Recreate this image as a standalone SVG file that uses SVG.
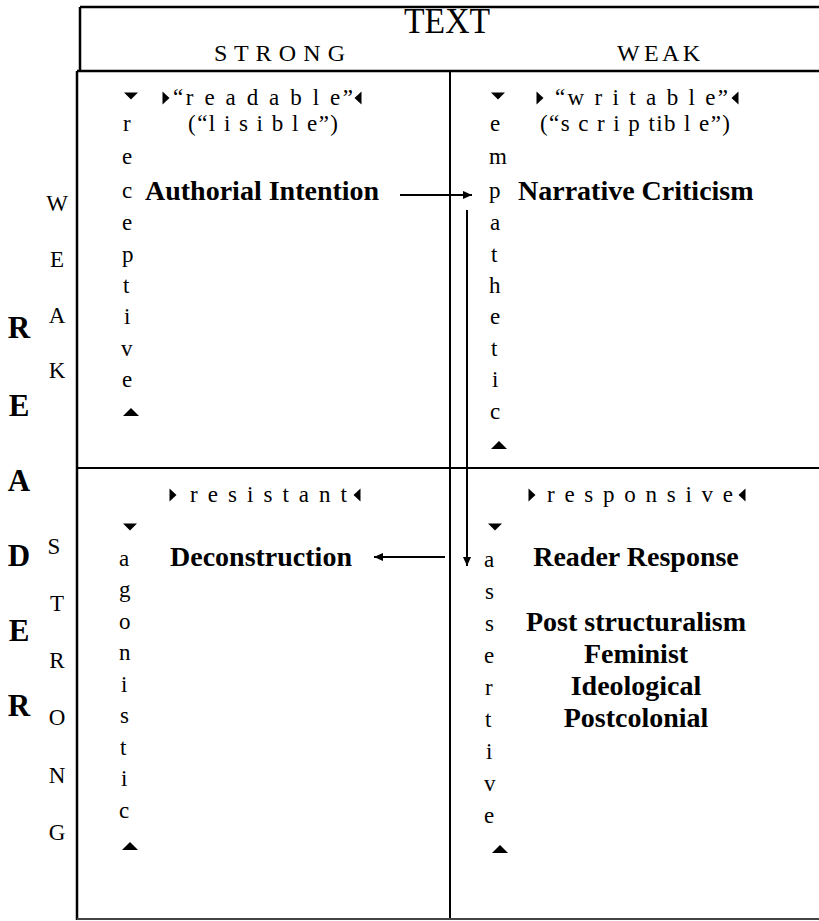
<svg xmlns="http://www.w3.org/2000/svg" width="819" height="921" viewBox="0 0 819 921">
<style>
.t{font-family:"Liberation Serif","Times New Roman",serif;font-size:23px;fill:#000}
.h{font-family:"Liberation Serif","Times New Roman",serif;font-size:24px;fill:#000}
.tt{font-family:"Liberation Serif","Times New Roman",serif;font-size:36px;fill:#000}
.b{font-family:"Liberation Serif","Times New Roman",serif;font-size:28px;font-weight:bold;fill:#000}
.big{font-family:"Liberation Serif","Times New Roman",serif;font-size:31px;font-weight:bold;fill:#000}
.ln{stroke:#000;fill:none}
.c{text-anchor:middle}
</style>
<defs>
<polygon id="dn" points="-7,-3.5 7,-3.5 0,3.5"/>
<polygon id="up" points="-8,4 8,4 0,-4"/>
<polygon id="rt" points="-3.5,-6.5 3.5,0 -3.5,6.5"/>
<polygon id="lt" points="3.5,-6.5 -3.5,0 3.5,6.5"/>
<marker id="ah" viewBox="0 0 10 10" refX="10" refY="5" markerWidth="9" markerHeight="9" markerUnits="userSpaceOnUse" orient="auto"><path d="M0,0.5 L10,5 L0,9.5 Z" fill="#000"/></marker>
</defs>
<rect width="819" height="921" fill="#fff"/>
<g id="frame">
<path class="ln" stroke-width="2.5" d="M80,7 H819 M80,7 V71 M77,71 H819 M77,71 V920"/>
<path class="ln" stroke-width="2" d="M450,71 V920 M77,468 H819"/>
<path stroke="#444" stroke-width="2" d="M77,919 H819"/>
</g>
<g id="header">
<text class="tt c" x="447" y="33" textLength="86" lengthAdjust="spacingAndGlyphs">TEXT</text>
<text class="h" x="214" y="61" textLength="131" lengthAdjust="spacing">S T R O N G</text>
<text class="h" x="617" y="61" textLength="83" lengthAdjust="spacing">W E A K</text>
</g>
<g id="reader-axis">
<text class="big c"><tspan x="19" y="338">R</tspan><tspan x="19" y="416">E</tspan><tspan x="19" y="491">A</tspan><tspan x="19" y="566">D</tspan><tspan x="19" y="641">E</tspan><tspan x="19" y="716">R</tspan></text>
<text class="t c"><tspan x="57" y="211">W</tspan><tspan x="57" y="267">E</tspan><tspan x="57" y="323">A</tspan><tspan x="57" y="378">K</tspan></text>
<text class="t c"><tspan x="54" y="554">S</tspan><tspan x="57" y="611">T</tspan><tspan x="57" y="668">R</tspan><tspan x="57" y="725">O</tspan><tspan x="57" y="783">N</tspan><tspan x="57" y="840">G</tspan></text>
</g>
<g id="cell-readable">
<use href="#dn" x="131" y="96"/>
<use href="#rt" x="166" y="98"/>
<text class="t" x="173" y="105" textLength="180" lengthAdjust="spacing">“r e a d a b l e”</text>
<use href="#lt" x="358" y="98"/>
<text class="t" x="188" y="131" textLength="150" lengthAdjust="spacing">(“l i s i b l e”)</text>
<text class="t"><tspan x="123" y="131">r</tspan><tspan x="122" y="164">e</tspan><tspan x="122" y="198">c</tspan><tspan x="122" y="230">e</tspan><tspan x="122" y="262">p</tspan><tspan x="123" y="293">t</tspan><tspan x="124" y="324">i</tspan><tspan x="121" y="356">v</tspan><tspan x="122" y="387">e</tspan></text>
<use href="#up" x="131" y="412"/>
<text class="b" x="145" y="200">Authorial Intention</text>
</g>
<g id="cell-writable">
<use href="#dn" x="498" y="96"/>
<use href="#rt" x="540" y="98"/>
<text class="t" x="555" y="105" textLength="173" lengthAdjust="spacing">“w r i t a b l e”</text>
<use href="#lt" x="735" y="98"/>
<text class="t" x="540" y="131" textLength="190" lengthAdjust="spacing">(“s c r i p tib l e”)</text>
<text class="t"><tspan x="490" y="131">e</tspan><tspan x="489" y="164">m</tspan><tspan x="489" y="198">p</tspan><tspan x="490" y="230">a</tspan><tspan x="491" y="262">t</tspan><tspan x="489" y="293">h</tspan><tspan x="490" y="324">e</tspan><tspan x="491" y="356">t</tspan><tspan x="492" y="387">i</tspan><tspan x="490" y="419">c</tspan></text>
<use href="#up" x="499" y="445"/>
<text class="b" x="518" y="200">Narrative Criticism</text>
</g>
<g id="cell-resistant">
<use href="#rt" x="173" y="495"/>
<text class="t" x="190" y="502" textLength="157" lengthAdjust="spacing">r e s i s t a n t</text>
<use href="#lt" x="357" y="495"/>
<use href="#dn" x="130" y="527"/>
<text class="t"><tspan x="119" y="566">a</tspan><tspan x="119" y="597">g</tspan><tspan x="119" y="629">o</tspan><tspan x="119" y="660">n</tspan><tspan x="121" y="692">i</tspan><tspan x="120" y="723">s</tspan><tspan x="120" y="755">t</tspan><tspan x="121" y="786">i</tspan><tspan x="119" y="818">c</tspan></text>
<use href="#up" x="130" y="846"/>
<text class="b" x="170" y="566">Deconstruction</text>
</g>
<g id="cell-responsive">
<use href="#rt" x="532" y="495"/>
<text class="t" x="547" y="502" textLength="186" lengthAdjust="spacing">r e s p o n s i v e</text>
<use href="#lt" x="742" y="495"/>
<use href="#dn" x="495" y="527"/>
<text class="t"><tspan x="484" y="567">a</tspan><tspan x="485" y="599">s</tspan><tspan x="485" y="631">s</tspan><tspan x="484" y="663">e</tspan><tspan x="485" y="695">r</tspan><tspan x="485" y="727">t</tspan><tspan x="486" y="759">i</tspan><tspan x="484" y="791">v</tspan><tspan x="484" y="823">e</tspan></text>
<use href="#up" x="500" y="849"/>
<text class="b c" x="636" y="566">Reader Response</text>
<text class="b c" x="636" y="631">Post structuralism</text>
<text class="b c" x="636" y="663">Feminist</text>
<text class="b c" x="636" y="695">Ideological</text>
<text class="b c" x="636" y="727">Postcolonial</text>
</g>
<g id="connectors">
<path class="ln" stroke-width="2" d="M400,195 H472" marker-end="url(#ah)"/>
<path class="ln" stroke-width="2" d="M467,210 V566" marker-end="url(#ah)"/>
<path class="ln" stroke-width="2" d="M445,557 H374" marker-end="url(#ah)"/>
</g>
</svg>
